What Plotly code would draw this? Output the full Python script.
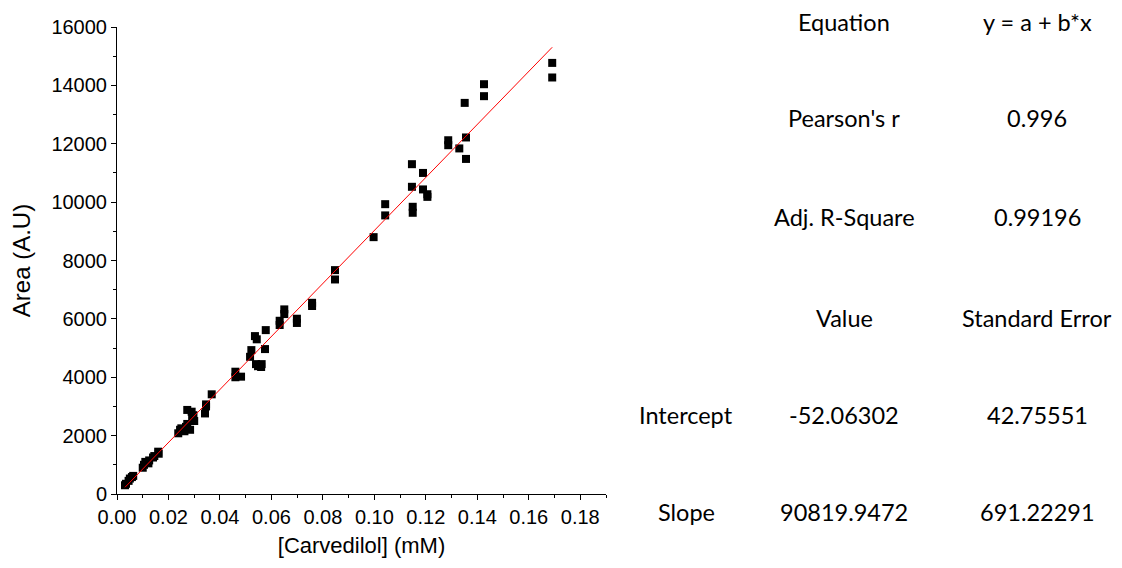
import plotly.graph_objects as go

# ---- data ----
conc = [0.0031, 0.0035, 0.0045, 0.0050, 0.0058, 0.0063,
        0.0100, 0.0105, 0.0110, 0.0122, 0.0125, 0.0140, 0.0145, 0.0160, 0.0162,
        0.0238, 0.0245, 0.0250, 0.0262, 0.0268, 0.0273, 0.0284, 0.0273, 0.0290,
        0.0297, 0.0292, 0.0300, 0.0342, 0.0346, 0.0346, 0.0368,
        0.0460, 0.0460, 0.0482, 0.0517, 0.0522, 0.0536, 0.0543, 0.0540, 0.0548,
        0.0560, 0.0562, 0.0575, 0.0578,
        0.0632, 0.0632, 0.0650, 0.0650, 0.0699, 0.0699, 0.0758, 0.0758,
        0.0847, 0.0847, 0.0997, 0.1042, 0.1042, 0.1146, 0.1146, 0.1149, 0.1149,
        0.1189, 0.1189, 0.1206, 0.1206, 0.1287, 0.1287, 0.1330, 0.1356, 0.1356,
        0.1351, 0.1426, 0.1426, 0.1691, 0.1691]
area = [300, 350, 450, 530, 580, 620,
        900, 1000, 1100, 1050, 1150, 1250, 1300, 1450, 1380,
        2080, 2200, 2250, 2150, 2300, 2400, 2200, 2880, 2820,
        2700, 2590, 2500, 2760, 3000, 3070, 3415,
        4190, 4000, 4020, 4700, 4930, 5410, 5300, 4450, 4380,
        4350, 4450, 4965, 5615,
        5935, 5790, 6325, 6165, 6005, 5860, 6550, 6440,
        7670, 7350, 8800, 9930, 9545, 11300, 10525, 9840, 9635,
        11000, 10435, 10270, 10180, 12120, 11950, 11840, 12215, 11480,
        13400, 14040, 13630, 14770, 14270]

intercept = -52.06302
slope = 90819.9472

stat_names = ["Equation", "Pearson's r", "Adj. R-Square"]
stat_values = ["y = a + b*x", "0.996", "0.99196"]
param_header = ["Value", "Standard Error"]
param_names = ["Intercept", "Slope"]
param_values = ["-52.06302", "90819.9472"]
param_errors = ["42.75551", "691.22291"]

x_ticks = [0.00, 0.02, 0.04, 0.06, 0.08, 0.10, 0.12, 0.14, 0.16, 0.18]
y_ticks = [0, 2000, 4000, 6000, 8000, 10000, 12000, 14000, 16000]

# ---- figure (page has an 8px default body margin, so the figure is
#      sized to fit inside the 1122x568 window and laid out in page coords) ----
PAGE_OFF = 8
W, H = 1122 - 2 * PAGE_OFF, 568 - 2 * PAGE_OFF
PLOT_LEFT, PLOT_TOP, PLOT_RIGHT, PLOT_BOTTOM = 117, 27, 606, 494   # page pixels
L = PLOT_LEFT - PAGE_OFF
T = PLOT_TOP - PAGE_OFF
R = W - (PLOT_RIGHT - PAGE_OFF)
B = H - (PLOT_BOTTOM - PAGE_OFF)
PW, PH = W - L - R, H - T - B

fit_x = [min(conc), max(conc)]
fit_y = [intercept + slope * v for v in fit_x]

fig = go.Figure()
fig.add_trace(go.Scatter(x=conc, y=area, mode="markers",
                         marker=dict(symbol="square", size=8, color="black"),
                         showlegend=False, cliponaxis=False))
fig.add_trace(go.Scatter(x=fit_x, y=fit_y, mode="lines",
                         line=dict(color="red", width=1),
                         showlegend=False))

fam = "Liberation Sans, Arial, sans-serif"
axis_font = dict(family=fam, size=20, color="black")
fig.update_xaxes(range=[0, 0.19], tickvals=x_ticks, tickformat=".2f",
                 showline=True, linecolor="black", linewidth=1,
                 ticks="outside", ticklen=5, tickcolor="black",
                 minor=dict(dtick=0.01, ticks="outside", ticklen=3, tickcolor="black"),
                 showgrid=False, zeroline=False, tickfont=axis_font,
                 title=dict(text="[Carvedilol] (mM)", font=dict(family=fam, size=22, color="black"),
                            standoff=10))
fig.update_yaxes(range=[0, 16000], tickvals=y_ticks, tickformat="d",
                 showline=True, linecolor="black", linewidth=1,
                 ticks="outside", ticklen=5, tickcolor="black",
                 minor=dict(dtick=1000, ticks="outside", ticklen=3, tickcolor="black"),
                 showgrid=False, zeroline=False, tickfont=axis_font,
                 title=dict(text="Area (A.U)", font=dict(family=fam, size=24, color="black"),
                            standoff=18))

def px_to_paper(px, py):
    fx, fy = px - PAGE_OFF, py - PAGE_OFF
    return (fx - L) / PW, (H - B - fy) / PH

table_font = dict(family="Lato, Carlito, Calibri, sans-serif", size=23.5, color="black")
col1, col2, col3 = 686, 844, 1037          # page pixels
row_y = [22, 118, 217, 318, 415, 512]      # page pixels

def add_text(txt, px, py):
    xp, yp = px_to_paper(px, py)
    fig.add_annotation(text=txt, x=xp, y=yp, xref="paper", yref="paper",
                       showarrow=False, xanchor="center", yanchor="middle",
                       borderpad=0, font=table_font)

for i, (n, v) in enumerate(zip(stat_names, stat_values)):
    add_text(n, col2, row_y[i])
    add_text(v, col3, row_y[i])
add_text(param_header[0], col2, row_y[3])
add_text(param_header[1], col3, row_y[3])
for j in range(2):
    add_text(param_names[j], col1, row_y[4 + j])
    add_text(param_values[j], col2, row_y[4 + j])
    add_text(param_errors[j], col3, row_y[4 + j])

fig.update_layout(width=W, height=H, margin=dict(l=L, r=R, t=T, b=B, autoexpand=False),
                  paper_bgcolor="white", plot_bgcolor="white")
fig.write_html("out.html")
